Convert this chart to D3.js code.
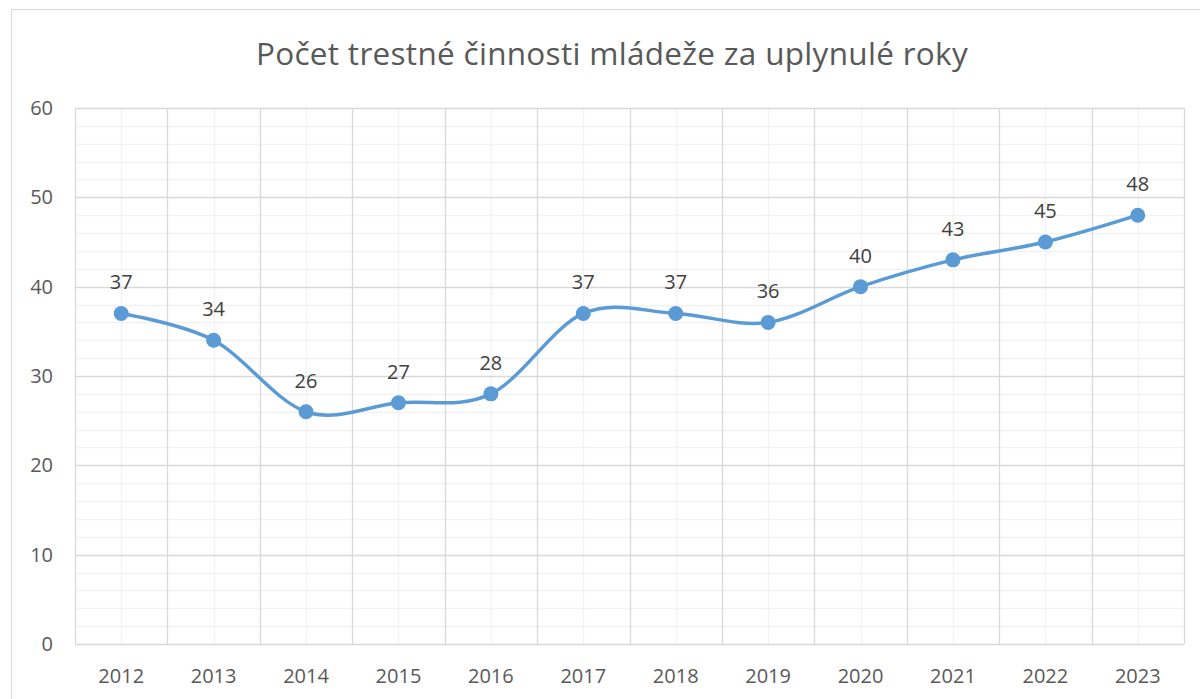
<!DOCTYPE html>
<html>
<head>
<meta charset="utf-8">
<script src="https://cdn.jsdelivr.net/npm/d3@7"></script>
<style>
  html, body { margin: 0; padding: 0; background: #fff; }
  svg { display: block; }
</style>
</head>
<body>
<svg id="chart" width="1200" height="699"></svg>
<script>
const years  = ["2012", "2013", "2014", "2015", "2016", "2017", "2018", "2019", "2020", "2021", "2022", "2023"];
const counts = [37, 34, 26, 27, 28, 37, 37, 36, 40, 43, 45, 48];
const yTicks = [0, 10, 20, 30, 40, 50, 60];
const title  = "Počet trestné činnosti mládeže za uplynulé roky";

const FONT = "'Open Sans', Lato, sans-serif";
const W = 1200, H = 699;
const plot = { left: 75, right: 1184, top: 108, bottom: 644 };

const svg = d3.select("#chart");

// chart frame (cropped on the right and bottom)
svg.append("path")
  .attr("d", `M11.5,${H} L11.5,9.5 L${W},9.5`)
  .attr("fill", "none")
  .attr("stroke", "#d9d9d9")
  .attr("stroke-width", 1);

svg.append("text")
  .attr("x", 612).attr("y", 65)
  .attr("text-anchor", "middle")
  .attr("font-family", FONT)
  .attr("font-size", 31.5)
  .attr("letter-spacing", 0.3)
  .attr("fill", "#595959")
  .text(title);

const x = d3.scaleBand().domain(years).range([plot.left, plot.right]);
const y = d3.scaleLinear().domain([0, 60]).range([plot.bottom, plot.top]);

const g = svg.append("g");

// minor horizontal gridlines
g.append("g").selectAll("line")
  .data(d3.range(0, 61, 2).filter(v => v % 10 !== 0))
  .join("line")
  .attr("x1", plot.left).attr("x2", plot.right)
  .attr("y1", d => Math.round(y(d)) + 0.5).attr("y2", d => Math.round(y(d)) + 0.5)
  .attr("stroke", "#f2f2f2").attr("stroke-width", 1.3);

// minor vertical gridlines at category centres
g.append("g").selectAll("line")
  .data(years)
  .join("line")
  .attr("x1", d => Math.round(x(d) + x.bandwidth() / 2) + 0.5)
  .attr("x2", d => Math.round(x(d) + x.bandwidth() / 2) + 0.5)
  .attr("y1", plot.top).attr("y2", plot.bottom)
  .attr("stroke", "#f2f2f2").attr("stroke-width", 1.3);

// major horizontal gridlines
g.append("g").selectAll("line")
  .data(yTicks)
  .join("line")
  .attr("x1", plot.left).attr("x2", plot.right)
  .attr("y1", d => Math.round(y(d)) + 0.5).attr("y2", d => Math.round(y(d)) + 0.5)
  .attr("stroke", "#d9d9d9").attr("stroke-width", 1.3);

// major vertical gridlines at category boundaries
g.append("g").selectAll("line")
  .data(years.concat(["end"]))
  .join("line")
  .attr("x1", d => Math.round(d === "end" ? plot.right : x(d)) + 0.5)
  .attr("x2", d => Math.round(d === "end" ? plot.right : x(d)) + 0.5)
  .attr("y1", plot.top).attr("y2", plot.bottom)
  .attr("stroke", "#d9d9d9").attr("stroke-width", 1.3);

// y axis labels
svg.append("g").selectAll("text")
  .data(yTicks)
  .join("text")
  .attr("x", 53).attr("y", d => y(d) + 7)
  .attr("text-anchor", "end")
  .attr("font-family", FONT).attr("font-size", 20)
  .attr("fill", "#595959")
  .text(d => d);

// x axis labels
svg.append("g").selectAll("text")
  .data(years)
  .join("text")
  .attr("x", d => x(d) + x.bandwidth() / 2).attr("y", 683)
  .attr("text-anchor", "middle")
  .attr("font-family", FONT).attr("font-size", 20)
  .attr("fill", "#595959")
  .text(d => d);

const pts = years.map((yr, i) => ({ yr, v: counts[i] }));
const cx = d => x(d.yr) + x.bandwidth() / 2;

const line = d3.line()
  .x(cx).y(d => y(d.v))
  .curve(d3.curveCardinal.tension(0));

svg.append("path")
  .datum(pts)
  .attr("d", line)
  .attr("fill", "none")
  .attr("stroke", "#5b9bd5")
  .attr("stroke-width", 3.5)
  .attr("stroke-linecap", "round");

svg.append("g").selectAll("circle")
  .data(pts)
  .join("circle")
  .attr("cx", cx).attr("cy", d => y(d.v))
  .attr("r", 7.5)
  .attr("fill", "#5b9bd5");

svg.append("g").selectAll("text")
  .data(pts)
  .join("text")
  .attr("x", cx).attr("y", d => y(d.v) - 24)
  .attr("text-anchor", "middle")
  .attr("font-family", FONT).attr("font-size", 20)
  .attr("fill", "#404040")
  .text(d => d.v);
</script>
</body>
</html>
